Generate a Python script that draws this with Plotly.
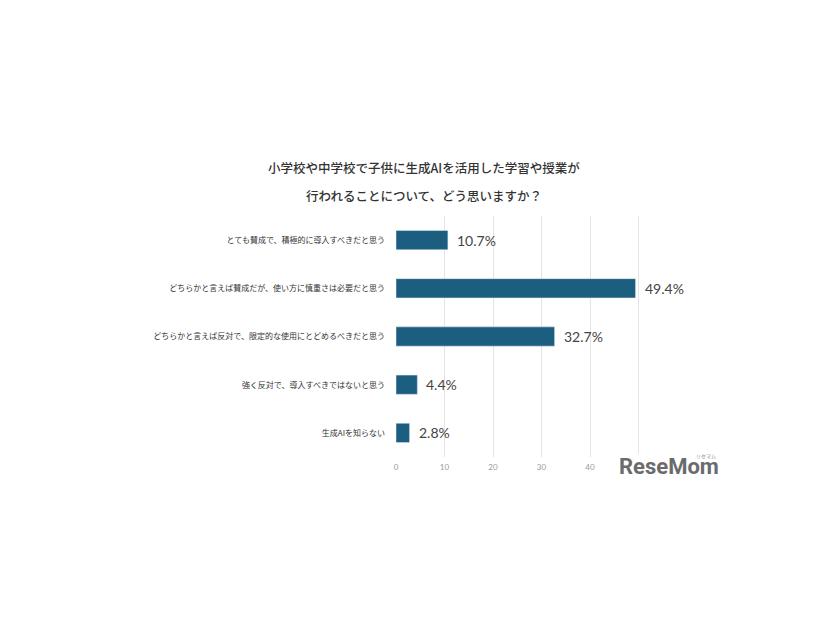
import plotly.graph_objects as go

categories = [
    "とても賛成で、積極的に導入すべきだと思う",
    "どちらかと言えば賛成だが、使い方に慎重さは必要だと思う",
    "どちらかと言えば反対で、限定的な使用にとどめるべきだと思う",
    "強く反対で、導入すべきではないと思う",
    "生成AIを知らない",
]
values = [10.7, 49.4, 32.7, 4.4, 2.8]
tick_vals = [0, 10, 20, 30, 40, 50, 60]

title_line1 = "小学校や中学校で子供に生成AIを活用した学習や授業が"
title_line2 = "行われることについて、どう思いますか？"

fig = go.Figure()
fig.add_trace(go.Bar(
    x=values, y=categories, orientation="h",
    marker=dict(color="#1b5e80"),
    hoverinfo="x+y",
))

for v, c in zip(values, categories):
    fig.add_annotation(
        x=v, y=c, xref="x", yref="y", text=f"{v:.1f}%", showarrow=False,
        xanchor="left", yanchor="middle", xshift=7,
        font=dict(size=14, color="#444444", family="Lato"),
    )

fig.update_layout(
    width=826, height=620,
    paper_bgcolor="white", plot_bgcolor="white",
    margin=dict(l=388, r=147, t=208, b=171, autoexpand=False),
    showlegend=False,
    bargap=0.6,
    font=dict(family="Noto Sans CJK JP", color="#333333"),
    xaxis=dict(
        range=[0, 60], tickvals=tick_vals, showgrid=True, gridcolor="#e4e4e4",
        gridwidth=1, zeroline=False, showline=False, automargin=False,
        tickfont=dict(size=8, color="#9a9a9a", family="Lato"), ticks="",
        ticklabelstandoff=4,
    ),
    yaxis=dict(
        autorange="reversed", showgrid=False, showline=False, ticks="",
        automargin=False,
        tickfont=dict(size=8, color="#333333"), ticklabelstandoff=10,
    ),
)

fig.add_annotation(
    text=title_line1, xref="paper", yref="paper", x=0.096, y=1.203,
    xanchor="center", yanchor="middle", showarrow=False,
    font=dict(size=12.5, color="#333333", family="Noto Sans CJK JP", weight=500),
)
fig.add_annotation(
    text=title_line2, xref="paper", yref="paper", x=0.096, y=1.087,
    xanchor="center", yanchor="middle", showarrow=False,
    font=dict(size=12.5, color="#333333", family="Noto Sans CJK JP", weight=500),
)

fig.add_annotation(
    text="<b>ReseMom</b>", xref="paper", yref="paper", x=1.115, y=-0.04,
    xanchor="right", yanchor="middle", showarrow=False,
    font=dict(size=22, color="#6b6b6b", family="Roboto"),
    bgcolor="rgba(255,255,255,0.85)", borderpad=0,
)
fig.add_annotation(
    text="リセマム", xref="paper", yref="paper", x=1.108, y=0.005,
    xanchor="right", yanchor="middle", showarrow=False,
    font=dict(size=5, color="#888888"),
)

fig.write_html("out.html")
